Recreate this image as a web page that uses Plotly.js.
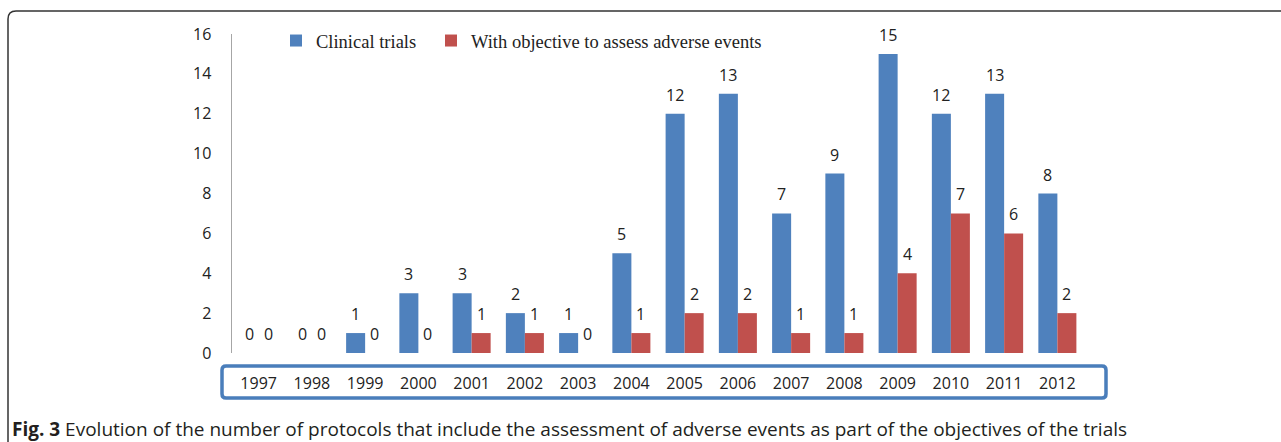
<!DOCTYPE html>
<html>
<head>
<meta charset="utf-8">
<script src="https://cdn.plot.ly/plotly-3.0.1.min.js"></script>
<style>
  html, body { margin: 0; padding: 0; background: #fff; }
  #chart { width: 1281px; height: 442px; }
</style>
</head>
<body>
<div id="chart"></div>
<script>
// ---- data ----
const years = ["1997","1998","1999","2000","2001","2002","2003","2004","2005","2006","2007","2008","2009","2010","2011","2012"];
const clinicalTrials = [0,0,1,3,3,2,1,5,12,13,7,9,15,12,13,8];
const adverseObjective = [0,0,0,0,1,1,0,1,2,2,1,1,4,7,6,2];
const seriesNames = ["Clinical trials", "With objective to assess adverse events"];
const yTicks = [0,2,4,6,8,10,12,14,16];
const captionBold = "Fig. 3";
const captionText = "Evolution of the number of protocols that include the assessment of adverse events as part of the objectives of the trials";

// ---- layout geometry ----
const W = 1281, H = 442;
const L = 232, R = 1084, T = 34, B = 353;
const px2x = p => (p - L) / (R - L);
const py2y = p => (B - p) / (B - T);

const blue = "#4f81bd", red = "#c0504d";
const labelFont = {family: "Open Sans, sans-serif", size: 16, color: "#222"};
const legendFont = {family: "Liberation Serif, Times New Roman, serif", size: 18.5, color: "#222"};

const traces = [
  {type: "bar", name: seriesNames[0], x: years, y: clinicalTrials, marker: {color: blue}, legend: "legend"},
  {type: "bar", name: seriesNames[1], x: years, y: adverseObjective, marker: {color: red}, legend: "legend2"}
];

// data labels above the bars (category index positions)
const annotations = [];
const barOffset = 9.5;
[clinicalTrials, adverseObjective].forEach((vals, s) => {
  vals.forEach((v, i) => {
    annotations.push({
      x: i, y: v, xref: "x", yref: "y",
      text: String(v), showarrow: false,
      xanchor: "center", yanchor: "bottom",
      xshift: s === 0 ? -barOffset : barOffset, yshift: 6,
      font: labelFont
    });
  });
});

// caption
annotations.push({
  xref: "paper", yref: "paper", x: px2x(10), y: py2y(429),
  xanchor: "left", yanchor: "middle", showarrow: false,
  text: "<b>" + captionBold + "</b> " + captionText,
  font: {family: "Open Sans, sans-serif", size: 19, color: "#231f20"}
});

function rrect(x0, y0, x1, y1, r) {
  const X = px2x, Y = py2y;
  return `M${X(x0+r)},${Y(y0)} L${X(x1-r)},${Y(y0)} Q${X(x1)},${Y(y0)} ${X(x1)},${Y(y0+r)} ` +
         `L${X(x1)},${Y(y1-r)} Q${X(x1)},${Y(y1)} ${X(x1-r)},${Y(y1)} ` +
         `L${X(x0+r)},${Y(y1)} Q${X(x0)},${Y(y1)} ${X(x0)},${Y(y1-r)} ` +
         `L${X(x0)},${Y(y0+r)} Q${X(x0)},${Y(y0)} ${X(x0+r)},${Y(y0)} Z`;
}

const outerPath = `M${px2x(8)},${py2y(470)} L${px2x(8)},${py2y(19)} Q${px2x(8)},${py2y(11)} ${px2x(16)},${py2y(11)} L${px2x(1300)},${py2y(11)}`;

const shapes = [
  {type: "path", xref: "paper", yref: "paper", path: rrect(222, 366, 1106, 398, 4),
   line: {color: "#4a7ebb", width: 3.5}, fillcolor: "rgba(0,0,0,0)"},
  {type: "path", xref: "paper", yref: "paper", path: outerPath,
   line: {color: "#333", width: 1.5}, fillcolor: "rgba(0,0,0,0)"}
];

const layout = {
  width: W, height: H,
  margin: {l: L, r: W - R, t: T, b: H - B, pad: 0},
  paper_bgcolor: "#fff", plot_bgcolor: "#fff",
  barmode: "group", bargap: 0.286, bargroupgap: 0,
  showlegend: true,
  legend: {
    orientation: "h", x: px2x(276), y: py2y(22), xanchor: "left", yanchor: "top",
    font: legendFont, bgcolor: "rgba(0,0,0,0)"
  },
  legend2: {
    orientation: "h", x: px2x(431), y: py2y(22), xanchor: "left", yanchor: "top",
    font: legendFont, bgcolor: "rgba(0,0,0,0)"
  },
  xaxis: {
    type: "category", range: [-0.5, years.length - 0.5], autorange: false,
    showline: false, showgrid: false, zeroline: false,
    ticks: "outside", ticklen: 16, tickcolor: "rgba(0,0,0,0)",
    tickfont: labelFont, fixedrange: true
  },
  yaxis: {
    range: [0, 16], autorange: false, tickvals: yTicks, ticktext: yTicks.map(String),
    showline: true, linecolor: "#a6a6a6", linewidth: 1.5,
    showgrid: false, zeroline: false,
    ticks: "outside", ticklen: 16, tickcolor: "rgba(0,0,0,0)",
    tickfont: labelFont, fixedrange: true
  },
  annotations: annotations,
  shapes: shapes
};

Plotly.newPlot("chart", traces, layout, {displayModeBar: false, staticPlot: true});
</script>
</body>
</html>
